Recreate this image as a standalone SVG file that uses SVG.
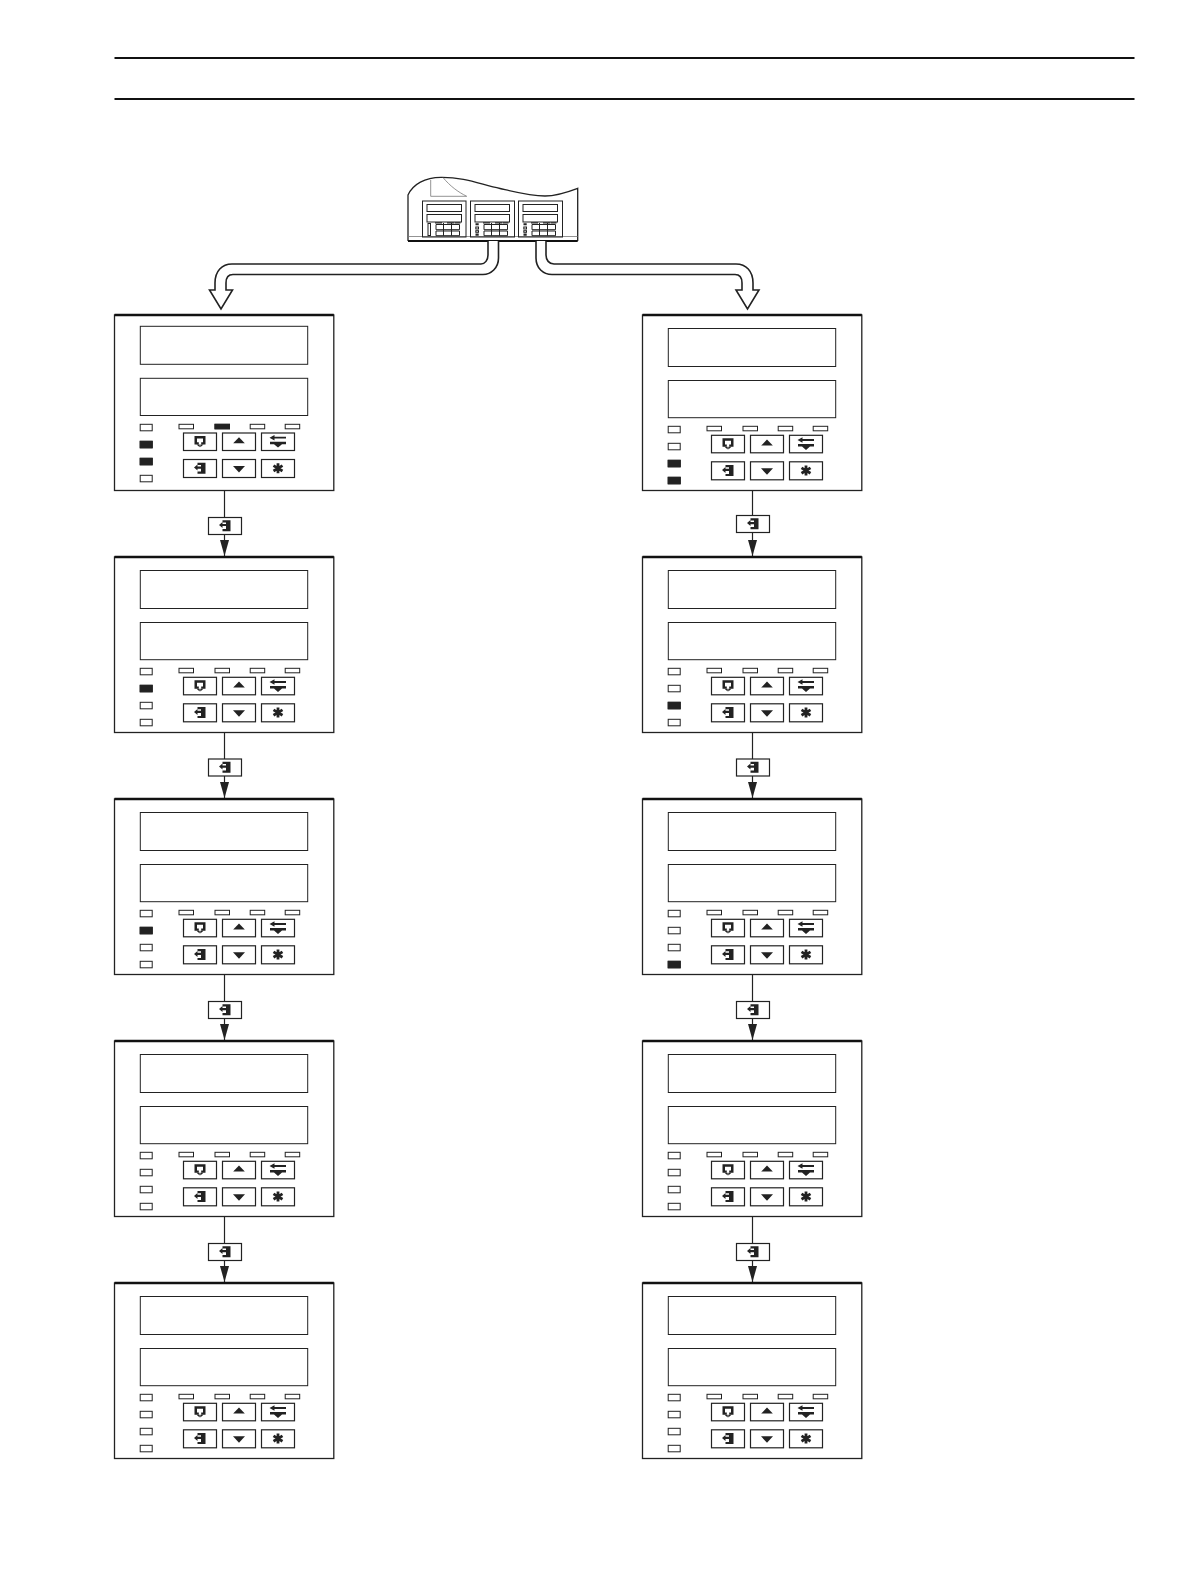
<svg xmlns="http://www.w3.org/2000/svg" width="1190" height="1588" viewBox="0 0 1190 1588">
<style>
.pan{fill:#fff;stroke:#222;stroke-width:1.300}
.top{fill:none;stroke:#111;stroke-width:2.400}
.disp{fill:#fff;stroke:#222;stroke-width:1}
.led{fill:#fff;stroke:#222;stroke-width:1}
.on{fill:#222;stroke:#222;stroke-width:1}
.btn{fill:#fff;stroke:#222;stroke-width:1.200}
.ic{fill:#222;stroke:none}
.con{fill:none;stroke:#222;stroke-width:1.200}
.big{fill:#fff;stroke:#222;stroke-width:1.600;stroke-linejoin:miter}
.thin{fill:none;stroke:#222;stroke-width:1}
.gr{fill:none;stroke:#777;stroke-width:.8}
</style>
<defs>
<marker id="ah" markerUnits="userSpaceOnUse" markerWidth="16" markerHeight="9" refX="16" refY="4.500" orient="auto" viewBox="0 0 16 9"><path d="M0 0L16 4.500L0 9Z" fill="#222"/></marker>
<g id="i-ret"><path class="ic" fill-rule="evenodd" d="M-5.500-5.500H5.500V3H1.200V.8H3V-3H-3V.8H-1.200V3H-5.500Z"/><path class="ic" d="M-3.500 3H-.3V5.800ZM.3 3H3.500L.3 5.800Z"/></g>
<g id="i-ent"><path class="ic" d="M-2.500-5.500H5.500V5.500H-2.500V3.300H1V-3.300H-2.500Z"/><path class="ic" d="M-6-.7L-2.500-3.700V-1.800H1V.4H-2.500V2.300Z"/></g>
<path id="i-up" class="ic" d="M-5.800 3L0-3L5.800 3Z"/>
<path id="i-dn" class="ic" d="M-6-2.500L0 4L6-2.500Z"/>
<g id="i-sw"><path class="ic" d="M-8.500-3.600L-3.500-6.300V-4.500H8V-2.700H-3.500V-.9Z"/><path class="ic" d="M-8 .5H8V3H4L0 6.300L-4 3H-8Z"/></g>
<g id="i-st" stroke="#222" stroke-width="2.800" fill="none"><path d="M0-5V5M-4.500-2.700L4.500 2.700M-4.500 2.700L4.500-2.700"/></g>
<g id="btns">
<rect class="btn" x="69" y="0" width="33" height="17.500"/><rect class="btn" x="108" y="0" width="33" height="17.500"/><rect class="btn" x="147" y="0" width="33" height="17.500"/>
<rect class="btn" x="69" y="26.500" width="33" height="18"/><rect class="btn" x="108" y="26.500" width="33" height="18"/><rect class="btn" x="147" y="26.500" width="33" height="18"/>
<use href="#i-ret" x="85.500" y="8.500"/><use href="#i-up" x="124.500" y="7.300"/><use href="#i-sw" x="163.500" y="8.300"/>
<use href="#i-ent" x="85.500" y="35.300"/><use href="#i-dn" x="124.500" y="35.500"/><use href="#i-st" x="163.500" y="35.300"/>
</g>
<g id="leds">
<rect class="led" x="25.700" y="0" width="12" height="6.500"/><rect class="led" x="25.700" y="17" width="12" height="6.500"/><rect class="led" x="25.700" y="34" width="12" height="6.500"/><rect class="led" x="25.700" y="51" width="12" height="6.500"/>
<rect class="led" x="64.500" y="0" width="14.500" height="4.500"/><rect class="led" x="100.500" y="0" width="14.500" height="4.500"/><rect class="led" x="135.700" y="0" width="14.500" height="4.500"/><rect class="led" x="170.700" y="0" width="14.500" height="4.500"/>
</g>
<g id="panel">
<rect class="pan" x="0" y="0" width="219.300" height="175.500"/>
<path class="top" d="M0 0H219.300"/>
<rect class="disp" x="25.800" y="13.500" width="167.400" height="38"/>
<rect class="disp" x="25.800" y="65.500" width="167.400" height="37.200"/>
<use href="#leds" y="111.300"/>
<use href="#btns" y="120.300"/>
</g>
</defs>
<g id="header">
<path d="M114.500 58H1134.500" stroke="#111" stroke-width="2.200" fill="none"/>
<path d="M114.500 99H1134.500" stroke="#111" stroke-width="2.200" fill="none"/>
</g>
<g id="unit">
<path d="M408 241V195C413 184 425 177.500 441 177.300C465 177 482 185 500 188.500C515 192 530 196 545 196C557 196 568 192 577.700 188.300V241" fill="#fff" stroke="#222" stroke-width="1.300"/>
<path class="gr" d="M430.700 180V196.300H466.700M443 177.500C450 186 458 192 466.700 196.300"/>
<path class="gr" d="M408 236.500H577.700"/>
<path d="M408 241H577.700" stroke="#111" stroke-width="2" fill="none"/>
<rect class="thin" x="422.500" y="201" width="43.500" height="36"/><rect class="thin" x="470.500" y="201" width="44" height="36"/><rect class="thin" x="518.500" y="201" width="44" height="36"/>
<rect class="thin" x="427" y="204.500" width="34.500" height="7"/><rect class="thin" x="427" y="214.500" width="34.500" height="7.500"/>
<rect class="thin" x="475" y="204.500" width="34.500" height="7"/><rect class="thin" x="475" y="214.500" width="34.500" height="7.500"/>
<rect class="thin" x="523" y="204.500" width="34.500" height="7"/><rect class="thin" x="523" y="214.500" width="34.500" height="7.500"/>
<rect class="thin" x="428" y="223.500" width="2.500" height="12"/>
<path class="ic" d="M475.500 223.300h3.200v2h-3.200ZM475.500 233.500h3.200v2.200h-3.200ZM523.500 223.300h3.200v2h-3.200ZM523.500 233.500h3.200v2.200h-3.200Z"/>
<rect class="thin" x="475.800" y="227" width="2.700" height="2"/><rect class="thin" x="475.800" y="230.700" width="2.700" height="1.600"/>
<rect class="thin" x="523.800" y="227" width="2.700" height="2"/><rect class="thin" x="523.800" y="230.700" width="2.700" height="1.600"/>
<path class="ic" d="M435 222.300h7v1.200h-7ZM447 222.300h7v1.200h-7ZM454.500 222.300h6v1.200h-6ZM483 222.300h7v1.200h-7ZM495 222.300h7v1.200h-7ZM502.500 222.300h6v1.200h-6ZM531 222.300h7v1.200h-7ZM543 222.300h7v1.200h-7ZM550.500 222.300h6v1.200h-6Z"/>
<path class="thin" d="M436 224.500H459.500V229.700H436ZM436 231H459.500V235.700H436ZM443.500 223V235.700M451.500 223V235.700"/>
<path class="thin" d="M484 224.500H507.500V229.700H484ZM484 231H507.500V235.700H484ZM491.500 223V235.700M499.500 223V235.700"/>
<path class="thin" d="M532 224.500H555.500V229.700H532ZM532 231H555.500V235.700H532ZM539.500 223V235.700M547.500 223V235.700"/>
</g>
<g id="connectors">
<path class="big" d="M498.500 241V258C498.500 268 491 274.500 483 274.500H233C228 274.500 226 278 226 283V290H232.500L221 309L209.500 290H215V283C215 271 222 264 232 264H481C485 264 488 260 488 255V241"/>
<path class="big" d="M536 241V258C536 268 543 274.500 552 274.500H735C740 274.500 742 278 742 283V290H736L747.500 309L759 290H753V283C753 271 746 264 736 264H554C549 264 546 260 546 255V241"/>
<g id="links-left">
<path class="con" d="M224.500 491V517"/><path class="con" d="M224.500 535V556" marker-end="url(#ah)"/>
<path class="con" d="M224.500 732.500V759"/><path class="con" d="M224.500 776V798" marker-end="url(#ah)"/>
<path class="con" d="M224.500 974.500V1001"/><path class="con" d="M224.500 1018.500V1040" marker-end="url(#ah)"/>
<path class="con" d="M224.500 1216.500V1243"/><path class="con" d="M224.500 1260.500V1282" marker-end="url(#ah)"/>
</g>
<g id="links-right">
<path class="con" d="M752.500 491V515"/><path class="con" d="M752.500 533V556" marker-end="url(#ah)"/>
<path class="con" d="M752.500 732.500V759"/><path class="con" d="M752.500 776V798" marker-end="url(#ah)"/>
<path class="con" d="M752.500 974.500V1001"/><path class="con" d="M752.500 1018.500V1040" marker-end="url(#ah)"/>
<path class="con" d="M752.500 1216.500V1243"/><path class="con" d="M752.500 1260.500V1282" marker-end="url(#ah)"/>
</g>
</g>
<g id="key-l1"><rect class="btn" x="208.500" y="517.500" width="33" height="17"/><use href="#i-ent" x="225" y="525.700"/></g>
<g id="key-l2"><rect class="btn" x="208.500" y="759" width="33" height="17"/><use href="#i-ent" x="225" y="767.300"/></g>
<g id="key-l3"><rect class="btn" x="208.500" y="1001.500" width="33" height="17"/><use href="#i-ent" x="225" y="1009.800"/></g>
<g id="key-l4"><rect class="btn" x="208.500" y="1243.500" width="33" height="17"/><use href="#i-ent" x="225" y="1251.800"/></g>
<g id="key-r1"><rect class="btn" x="736.500" y="515.500" width="33" height="17"/><use href="#i-ent" x="753" y="523.800"/></g>
<g id="key-r2"><rect class="btn" x="736.500" y="759" width="33" height="17"/><use href="#i-ent" x="753" y="767.300"/></g>
<g id="key-r3"><rect class="btn" x="736.500" y="1001.500" width="33" height="17"/><use href="#i-ent" x="753" y="1009.800"/></g>
<g id="key-r4"><rect class="btn" x="736.500" y="1243.500" width="33" height="17"/><use href="#i-ent" x="753" y="1251.800"/></g>
<g id="panel-l1" transform="translate(114.500 315)">
<rect class="pan" x="0" y="0" width="219.300" height="175.500"/><path class="top" d="M0 0H219.300"/>
<rect class="disp" x="25.800" y="11.300" width="167.400" height="38"/><rect class="disp" x="25.800" y="63.300" width="167.400" height="37.200"/>
<use href="#leds" y="109.300"/><use href="#btns" y="118"/>
<rect class="on" x="25.700" y="126.300" width="12" height="6.500"/><rect class="on" x="25.700" y="143.300" width="12" height="6.500"/><rect class="on" x="100.500" y="109.300" width="14.500" height="4.500"/>
</g>
<g id="panel-l2" transform="translate(114.500 557)"><use href="#panel"/><rect class="on" x="25.700" y="128.300" width="12" height="6.500"/></g>
<g id="panel-l3" transform="translate(114.500 799)"><use href="#panel"/><rect class="on" x="25.700" y="128.300" width="12" height="6.500"/></g>
<g id="panel-l4" transform="translate(114.500 1041)"><use href="#panel"/></g>
<g id="panel-l5" transform="translate(114.500 1283)"><use href="#panel"/></g>
<g id="panel-r1" transform="translate(642.500 315)"><use href="#panel"/><rect class="on" x="25.700" y="145.300" width="12" height="6.500"/><rect class="on" x="25.700" y="162.300" width="12" height="6.500"/></g>
<g id="panel-r2" transform="translate(642.500 557)"><use href="#panel"/><rect class="on" x="25.700" y="145.300" width="12" height="6.500"/></g>
<g id="panel-r3" transform="translate(642.500 799)"><use href="#panel"/><rect class="on" x="25.700" y="162.300" width="12" height="6.500"/></g>
<g id="panel-r4" transform="translate(642.500 1041)"><use href="#panel"/></g>
<g id="panel-r5" transform="translate(642.500 1283)"><use href="#panel"/></g>
</svg>
